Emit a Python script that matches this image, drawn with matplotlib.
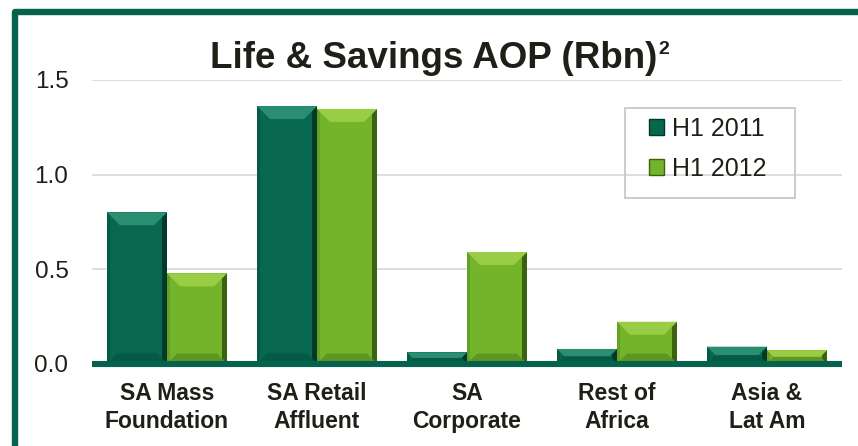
import matplotlib
matplotlib.use("Agg")
import matplotlib.pyplot as plt
from matplotlib.patches import Rectangle, Polygon, Patch
import numpy as np

categories = ["SA Mass\nFoundation", "SA Retail\nAffluent", "SA\nCorporate", "Rest of\nAfrica", "Asia &\nLat Am"]
h1_2011 = [0.80, 1.362, 0.059, 0.077, 0.089]
h1_2012 = [0.477, 1.347, 0.59, 0.221, 0.071]
series_labels = ["H1 2011", "H1 2012"]
yticks = [0.0, 0.5, 1.0, 1.5]
ytick_labels = ["0.0", "0.5", "1.0", "1.5"]

W, H = 858, 446
DPI = 100
FONT = "Liberation Sans"
TXT = "#1f1f17"

DARK = "#07684f"
LIGHT = "#74b42a"
DARK_TOP = "#2a8e73"
LIGHT_TOP = "#98cd45"
DARK_R = "#03392b"
LIGHT_R = "#3b6113"
DARK_L = "#055a44"
LIGHT_L = "#64a022"
DARK_B = "#055a45"
LIGHT_B = "#5f9622"
FRAME = "#04624e"

fig = plt.figure(figsize=(W / DPI, H / DPI), dpi=DPI)
fig.patch.set_facecolor("white")

def fx(px):
    return px / W

def fy(py):
    return 1 - py / H

ax_l, ax_r, ax_t, ax_b = 92, 842, 80, 363.5
ax = fig.add_axes([fx(ax_l), fy(ax_b), (ax_r - ax_l) / W, (ax_b - ax_t) / H])
ax.set_xlim(-0.5, len(categories) - 0.5)
ax.set_ylim(0, 1.5)
for s in ax.spines.values():
    s.set_visible(False)
ax.set_facecolor("none")

x = np.arange(len(categories))
bw = 0.4
b1 = ax.bar(x - bw / 2, h1_2011, width=bw, color=DARK, zorder=3, linewidth=0)
b2 = ax.bar(x + bw / 2, h1_2012, width=bw, color=LIGHT, zorder=3, linewidth=0)

# gridlines
for yv in yticks[1:]:
    ax.axhline(yv, color="#dedede", lw=1.4, zorder=1)
# baseline
ax.axhline(0, color=FRAME, lw=4.4, zorder=6, clip_on=False, solid_capstyle="butt")

ax.set_yticks(yticks)
ax.set_yticklabels(ytick_labels, fontsize=17.5, color=TXT, fontfamily=FONT)
ax.set_xticks(x)
ax.set_xticklabels(categories, fontsize=16.5, color=TXT, fontfamily=FONT,
                   fontweight="bold", linespacing=1.28)
ax.tick_params(axis="y", length=0, pad=17)
ax.tick_params(axis="x", length=0, pad=13)

# bevel effect derived from each bar's geometry
def bevel(bars, top_c, left_c, right_c, bot_c, bpx=13, lpx=3, rpx=5, bbpx=10):
    inv = ax.transData.inverted()
    for r in bars:
        x0, y0 = r.get_x(), r.get_y()
        x1, y1 = x0 + r.get_width(), y0 + r.get_height()
        (px0, py0), (px1, py1) = ax.transData.transform([(x0, y0), (x1, y1)])
        hh = py1 - py0
        b = min(bpx, hh / 2)
        bb = min(bbpx, hh / 2)
        bot = [(px0, py0), (px1, py0), (px1 - bb, py0 + bb), (px0 + bb, py0 + bb)]
        left = [(px0, py1), (px0 + lpx, py1 - min(lpx, b)), (px0 + lpx, py0 + min(lpx, bb)), (px0, py0)]
        right = [(px1, py1), (px1 - rpx, py1 - min(rpx, b)), (px1 - rpx, py0 + min(rpx, bb)), (px1, py0)]
        top = [(px0, py1), (px1, py1), (px1 - b, py1 - b), (px0 + b, py1 - b)]
        for poly, c in ((bot, bot_c), (left, left_c), (right, right_c), (top, top_c)):
            ax.add_patch(Polygon(inv.transform(poly), closed=True, facecolor=c,
                                 edgecolor="none", zorder=4))

bevel(b1, DARK_TOP, DARK_L, DARK_R, DARK_B)
bevel(b2, LIGHT_TOP, LIGHT_L, LIGHT_R, LIGHT_B)

# legend
handles = [Patch(facecolor=DARK, edgecolor=DARK_R, linewidth=1.0),
           Patch(facecolor=LIGHT, edgecolor=LIGHT_R, linewidth=1.0)]
leg = fig.legend(handles, series_labels, loc="upper left",
                 bbox_to_anchor=(fx(649), fy(117)), frameon=False,
                 borderpad=0, borderaxespad=0, handlelength=0.6,
                 handleheight=0.6, handletextpad=0.32, labelspacing=0.62,
                 prop={"family": FONT, "size": 18})
for t in leg.get_texts():
    t.set_color(TXT)
fig.add_artist(Rectangle((fx(625), fy(198)), (795 - 625) / W, (198 - 108) / H,
                         transform=fig.transFigure, facecolor="none",
                         edgecolor="#c4c4c4", lw=1.2, zorder=5))

# outer frame
fig.add_artist(Rectangle((fx(14.5), fy(H + 40)), 2.0, (H + 40 - 12) / H,
                         transform=fig.transFigure, facecolor="none",
                         edgecolor=FRAME, lw=4.6, joinstyle="round", zorder=10))

# title with superscript
title = fig.text(fx(210), fy(68.3), "Life & Savings AOP (Rbn)", ha="left",
                 va="baseline", fontsize=26.5, fontweight="bold",
                 fontfamily=FONT, color=TXT)
fig.canvas.draw()
bb = title.get_window_extent()
fig.text((bb.x1 + 1) / W, fy(54), "2", ha="left", va="baseline", fontsize=14,
         fontweight="bold", fontfamily=FONT, color=TXT)

fig.savefig("out.png", dpi=DPI, facecolor="white")
